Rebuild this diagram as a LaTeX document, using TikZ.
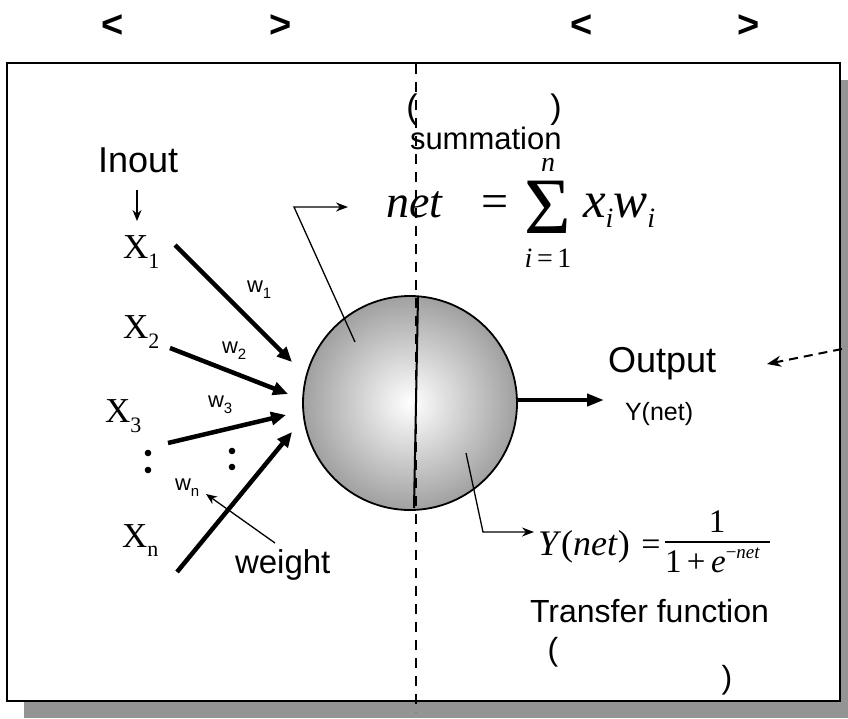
\documentclass[tikz,border=0pt]{standalone}
\usepackage{fontspec}
\setmainfont{Liberation Serif}
\setsansfont{Liberation Sans}
\usetikzlibrary{arrows.meta}
\newcommand{\fsz}[1]{\fontsize{#1}{#1}\selectfont}
\definecolor{shadowgray}{RGB}{148,148,148}
\definecolor{ballouter}{RGB}{160,160,160}
\begin{document}
\begin{tikzpicture}[x=1pt,y=-1pt,
  txt/.style={inner sep=0pt, outer sep=0pt},
  sans/.style={txt, font=\sffamily\fsz{#1}},
  serif/.style={txt, font=\fsz{#1}},
  iserif/.style={txt, font=\fsz{#1}\itshape},
  bigarrow/.style={line width=4.5pt, -{Triangle[length=15pt,width=13pt]}},
  thinarrow/.style={line width=1.3pt, -{Stealth[length=11pt,width=9pt]}},
  pointer/.style={line width=1.3pt, -{Stealth[length=12pt,width=9pt]}}
]
\useasboundingbox (0,0) rectangle (848,718);
% shadow and frame
\fill[shadowgray] (24,80) rectangle (848,718);
\draw[line width=2.5pt, fill=white] (7,63) rectangle (840,701);

% top brackets
\node[txt, font=\sffamily\bfseries\fsz{38}] (b1) at (113,26) {<};
\node[txt, font=\sffamily\bfseries\fsz{38}] (b2) at (281,26) {>};
\node[txt, font=\sffamily\bfseries\fsz{38}] (b3) at (582,26) {<};
\node[txt, font=\sffamily\bfseries\fsz{38}] (b4) at (749,26) {>};

% summation label
\node[sans=34] (p1) at (412,110) {(};
\node[sans=34] (p2) at (556,110) {)};
\node[sans=31, anchor=base west] (summ) at (410,149) {summation};

% net formula
\node[iserif=46, anchor=base west] (net) at (386,217) {net};
\node[serif=48, anchor=base] (eq1) at (495,217) {=};
\node[serif=80, anchor=base] (sig) at (548,233) {Σ};
\node[iserif=28, anchor=base] (upn) at (548,171) {n};
\node[serif=28, anchor=base] (low) at (548,267) {\textit{i}\,=\,1};
\node[serif=51, anchor=base west] (xw) at (583,217) {\textit{x}\raisebox{-10pt}{\fsz{28}\textit{i}}\textit{w}\raisebox{-10pt}{\fsz{28}\textit{i}}};

% inputs
\node[sans=36, anchor=base west] (inout) at (98,172) {Inout};
\coordinate (inA) at (137,190);
\coordinate (inB) at (137,221);
\draw[thinarrow] (inA) -- (inB);

\node[serif=35, anchor=base west] (x1) at (123,258) {X\raisebox{-10pt}{\fsz{22}1}};
\node[serif=35, anchor=base west] (x2) at (123,338) {X\raisebox{-10pt}{\fsz{22}2}};
\node[serif=35, anchor=base west] (x3) at (105,422) {X\raisebox{-10pt}{\fsz{22}3}};
\node[serif=35, anchor=base west] (xn) at (122,547) {X\raisebox{-9pt}{\fsz{22}n}};

\node[sans=22, anchor=base west] (w1) at (247,292) {w\raisebox{-6pt}{\fsz{15}1}};
\node[sans=22, anchor=base west] (w2) at (222,353) {w\raisebox{-6pt}{\fsz{15}2}};
\node[sans=22, anchor=base west] (w3) at (208,407) {w\raisebox{-6pt}{\fsz{15}3}};
\node[sans=22, anchor=base west] (wn) at (175,490) {w\raisebox{-6pt}{\fsz{15}n}};

% dots
\fill (148,453) circle (3.3) (148,470) circle (3.3);
\fill (232,451) circle (3.3) (232,467) circle (3.3);

% weighted input arrows
\coordinate (a1s) at (175,245); \coordinate (a1e) at (292,362);
\coordinate (a2s) at (170,348); \coordinate (a2e) at (288,394);
\coordinate (a3s) at (168,443); \coordinate (a3e) at (286,415);
\coordinate (ans) at (177,572); \coordinate (ane) at (292,432);
\draw[bigarrow] (a1s) -- (a1e);
\draw[bigarrow] (a2s) -- (a2e);
\draw[bigarrow] (a3s) -- (a3e);
\draw[bigarrow] (ans) -- (ane);

% weight label and pointer
\node[sans=33, anchor=base west] (weight) at (235,573) {weight};
\coordinate (wpA) at (275,543);
\coordinate (wpB) at (206,494);
\draw[thinarrow] (wpA) -- (wpB);

% neuron
\shade[inner color=white, outer color=ballouter] (410,403) circle (107);
\node[circle, draw, line width=1.8pt, minimum size=214pt, inner sep=0pt] (neuron) at (410,403) {};
\coordinate (splitT) at (418,297);
\coordinate (splitB) at (414,508);
\draw[line width=2pt] (splitT) -- (splitB);

% summation pointer
\coordinate (sp0) at (355,342);
\coordinate (sp1) at (294,207);
\coordinate (sp2) at (348,207);
\draw[pointer] (sp0) -- (sp1) -- (sp2);

% transfer pointer
\coordinate (tp0) at (466,453);
\coordinate (tp1) at (483,532);
\coordinate (tp2) at (534,532);
\draw[pointer] (tp0) -- (tp1) -- (tp2);

% output
\coordinate (outS) at (517,400);
\coordinate (outE) at (604,400);
\draw[line width=4pt, -{Triangle[length=17pt,width=12pt]}] (outS) -- (outE);
\node[sans=36, anchor=base west] (output) at (608,372) {Output};
\node[sans=25, anchor=base west] (ynetlbl) at (625,420) {Y(net)};
\coordinate (dA) at (842,349);
\coordinate (dB) at (767,364);
\draw[line width=2pt, dash pattern=on 9pt off 6pt, -{Stealth[length=14pt,width=11pt]}] (dA) -- (dB);

% transfer formula
\node[serif=36, anchor=base west] (yform) at (538,555) {\textit{Y}(\textit{net})};
\node[serif=34, anchor=base] (eq2) at (651,555) {=};
\node[serif=33, anchor=base] (num) at (717,532) {1};
\coordinate (barL) at (665,542);
\coordinate (barR) at (770,542);
\draw[line width=1.5pt] (barL) -- (barR);
\node[serif=33, anchor=base west] (den) at (665,572) {1\,+\,\textit{e}\raisebox{14pt}{\fsz{19}−\textit{net}}};

\node[sans=32, anchor=base west] (transfer) at (530,622) {Transfer function};
\node[sans=32] (p3) at (553,652) {(};
\node[sans=32] (p4) at (727,680) {)};

% dividing dashed line
\coordinate (dvT) at (416,64);
\coordinate (dvB) at (416,712);
\draw[line width=2.5pt, dash pattern=on 10pt off 8pt] (dvT) -- (dvB);
\end{tikzpicture}
\end{document}
